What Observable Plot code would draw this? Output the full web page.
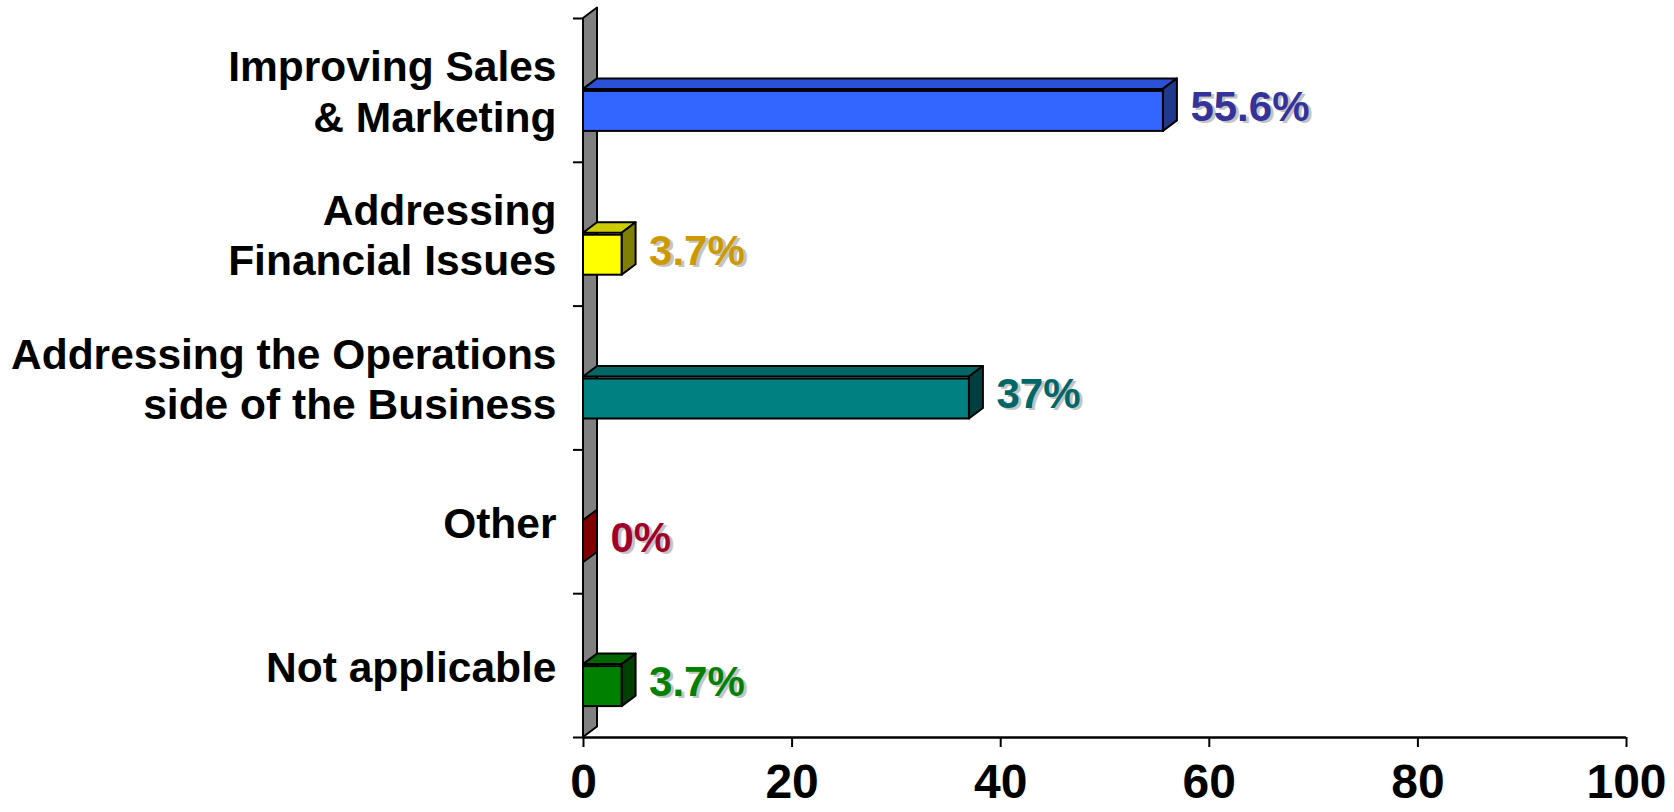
<!DOCTYPE html>
<html><head><meta charset="utf-8">
<script src="https://cdn.jsdelivr.net/npm/d3@7"></script>
<script src="https://cdn.jsdelivr.net/npm/@observablehq/plot@0.6"></script>
<style>
body{margin:0;background:#fff;}
#chart svg{font-family:"Liberation Sans",Arial,sans-serif;}
</style></head><body><div id="chart"></div>
<script>
const categories = ["Improving Sales\n& Marketing","Addressing\nFinancial Issues","Addressing the Operations\nside of the Business","Other","Not applicable"];
const values = [55.6, 3.7, 37, 0, 3.7];
const valueLabels = ["55.6%","3.7%","37%","0%","3.7%"];
const xTicks = [0,20,40,60,80,100];

const frontColors = ["#3366FF","#FFFF00","#008080","#990000","#008000"];
const topColors = ["#2B52D6","#CCCC00","#006666","#7A0000","#006600"];
const sideColors = ["#1F3A8C","#808000","#004040","#800000","#004000"];
const labelColors = ["#333399","#CC9900","#006666","#A0002A","#008000"];

const data = categories.map((c,i)=>({cat:c, pos:i+0.5, value:values[i], label:valueLabels[i],
  front:frontColors[i], top:topColors[i], side:sideColors[i], lc:labelColors[i]}));

const DX = 14, DY = -10.5;      // 3D depth offset (px)
const FRONT_TOP = -1, FRONT_BOT = 41; // front face relative to band centre (px)

function wall(index, scales) {
  const x0 = scales.x(0), yT = scales.y(0), yB = scales.y(categories.length);
  const g = d3.create("svg:g");
  g.append("path")
    .attr("d", `M${x0},${yT}L${x0+DX},${yT+DY}L${x0+DX},${yB+DY}L${x0},${yB}Z`)
    .attr("fill","#808080").attr("stroke","#000").attr("stroke-width",2).attr("stroke-linejoin","round");
  return g.node();
}
function faces(index, scales) {
  const g = d3.create("svg:g").attr("stroke","#000").attr("stroke-width",2).attr("stroke-linejoin","round");
  for (const d of data) {
    const x0 = scales.x(0), x1 = scales.x(d.value), yc = scales.y(d.pos);
    const yt = yc + FRONT_TOP, yb = yc + FRONT_BOT;
    g.append("path").attr("fill", d.top)
      .attr("d", `M${x0},${yt}L${x0+DX},${yt+DY}L${x1+DX},${yt+DY}L${x1},${yt}Z`);
    g.append("path").attr("fill", d.side)
      .attr("d", `M${x1},${yt}L${x1+DX},${yt+DY}L${x1+DX},${yb+DY}L${x1},${yb}Z`);
  }
  return g.node();
}

const chart = Plot.plot({
  width: 1674, height: 812,
  marginLeft: 583, marginRight: 48, marginTop: 18, marginBottom: 75,
  x: {domain: [0, 100], label: null},
  y: {domain: [0, categories.length], reverse: true, label: null},
  marks: [
    wall,
    faces,
    Plot.rect(data, {x1: 0, x2: "value", y1: "pos", y2: "pos", insetTop: -(FRONT_TOP), insetBottom: -(FRONT_BOT),
      fill: d => d.front, stroke: "#000", strokeWidth: 2}),
    Plot.ruleY([categories.length], {stroke: "#000", strokeWidth: 2.5}),
    Plot.axisY({ticks: d3.range(0, categories.length + 1), tickFormat: () => "", tickSize: 10, stroke: "#000", strokeWidth: 2, label: null}),
    Plot.axisX({ticks: xTicks, tickSize: 10, tickPadding: 16, fontSize: 48, fontWeight: "bold", stroke: "#000", strokeWidth: 2, fill: "#000", label: null}),
    Plot.text(data, {x: "value", y: "pos", text: "label", dx: 30, dy: 19, textAnchor: "start",
      fontSize: 42, fontWeight: "bold", fill: "#c4c4c4"}),
    Plot.text(data, {x: "value", y: "pos", text: "label", dx: 27, dy: 17, textAnchor: "start",
      fontSize: 42, fontWeight: "bold", fill: d => d.lc}),
    Plot.text(data, {x: 0, y: "pos", text: "cat", dx: -27, textAnchor: "end", lineHeight: 1.18,
      fontSize: 42.5, fontWeight: "bold", fill: "#000"})
  ]
});
document.getElementById("chart").appendChild(chart);
</script>
</body></html>
